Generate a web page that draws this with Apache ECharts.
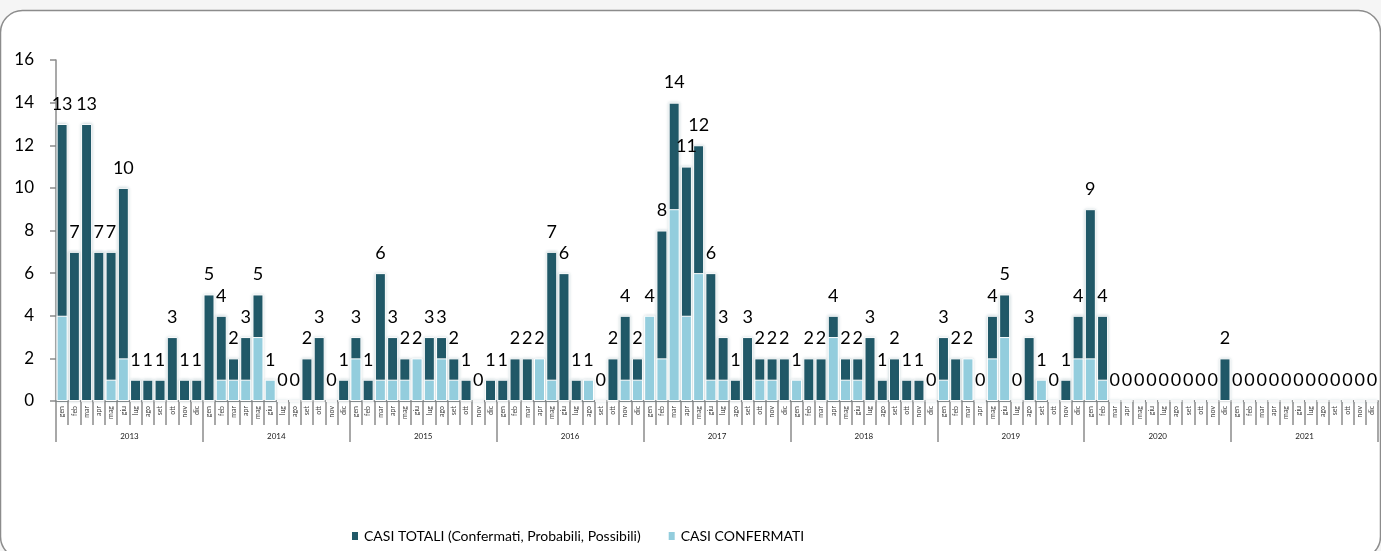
<!DOCTYPE html>
<html>
<head>
<meta charset="utf-8">
<script src="https://cdn.jsdelivr.net/npm/echarts@6/dist/echarts.min.js"></script>
<style>
html,body{margin:0;padding:0;background:#f5f5f5;}
#chart{width:1381px;height:551px;}
</style>
</head>
<body>
<div id="chart"></div>
<script>
const years = ['2013','2014','2015','2016','2017','2018','2019','2020','2021'];
const months = ['gen','feb','mar','apr','mag','giu','lug','ago','set','ott','nov','dic'];

const total2013 = [13,7,13,7,7,10,1,1,1,3,1,1];
const total2014 = [5,4,2,3,5,1,0,0,2,3,0,1];
const total2015 = [3,1,6,3,2,2,3,3,2,1,0,1];
const total2016 = [1,2,2,2,7,6,1,1,0,2,4,2];
const total2017 = [4,8,14,11,12,6,3,1,3,2,2,2];
const total2018 = [1,2,2,4,2,2,3,1,2,1,1,0];
const total2019 = [3,2,2,0,4,5,0,3,1,0,1,4];
const total2020 = [9,4,0,0,0,0,0,0,0,0,0,2];
const total2021 = [0,0,0,0,0,0,0,0,0,0,0,0];

const conf2013 = [4,0,0,0,1,2,0,0,0,0,0,0];
const conf2014 = [0,1,1,1,3,1,0,0,0,0,0,0];
const conf2015 = [2,0,1,1,1,2,1,2,1,0,0,0];
const conf2016 = [0,0,0,2,1,0,0,1,0,0,1,1];
const conf2017 = [4,2,9,4,6,1,1,0,0,1,1,0];
const conf2018 = [1,0,0,3,1,1,0,0,0,0,0,0];
const conf2019 = [1,0,2,0,2,3,0,0,1,0,0,2];
const conf2020 = [2,1,0,0,0,0,0,0,0,0,0,0];
const conf2021 = [0,0,0,0,0,0,0,0,0,0,0,0];

const seriesNames = ['CASI TOTALI (Confermati, Probabili, Possibili)','CASI CONFERMATI'];
const yTicks = {min:0, max:16, interval:2};

const totals = [].concat(total2013,total2014,total2015,total2016,total2017,total2018,total2019,total2020,total2021);
const confs = [].concat(conf2013,conf2014,conf2015,conf2016,conf2017,conf2018,conf2019,conf2020,conf2021);
const cats = [];
years.forEach(y => months.forEach(m => cats.push(m)));

const FONT = 'Lato, "Open Sans", sans-serif';
const chart = echarts.init(document.getElementById('chart'), null, {renderer:'canvas'});
chart.setOption({
  backgroundColor:'#f5f5f5',
  animation:false,
  textStyle:{fontFamily:FONT},
  graphic:[{
    type:'rect', z:-10, silent:true,
    shape:{x:0.5, y:10.5, width:1380, height:548, r:22},
    style:{fill:'#ffffff', stroke:'#8c8c8c', lineWidth:1.5}
  }],
  legend:{
    left:345, top:524, icon:'rect', itemWidth:8, itemHeight:10, itemGap:26,
    textStyle:{fontFamily:FONT, fontSize:14, color:'#000'},
    data:seriesNames
  },
  grid:{left:56, right:3, top:60, bottom:150, containLabel:false},
  xAxis:[{
    type:'category', data:cats, position:'bottom',
    axisLine:{show:true, lineStyle:{color:'#8c8c8c', width:1.5}},
    axisTick:{show:true, length:24, interval:0, lineStyle:{color:'#8c8c8c', width:1.5}},
    axisLabel:{interval:0, rotate:90, fontSize:7, color:'#404040', margin:5, fontFamily:FONT}
  },{
    type:'category', data:years, position:'bottom',
    axisLine:{show:true, lineStyle:{color:'#8c8c8c', width:1.5}},
    axisTick:{show:true, length:41, interval:0, lineStyle:{color:'#8c8c8c', width:1.5}},
    axisLabel:{interval:0, fontSize:8, color:'#202020', margin:31, fontFamily:FONT}
  }],
  yAxis:{
    type:'value', min:yTicks.min, max:yTicks.max, interval:yTicks.interval,
    axisLine:{show:true, lineStyle:{color:'#8c8c8c', width:1.5}},
    axisTick:{show:true, length:6, lineStyle:{color:'#8c8c8c', width:1.5}},
    splitLine:{show:false},
    axisLabel:{fontSize:17, color:'#000', margin:22, fontFamily:FONT}
  },
  series:[{
    name:seriesNames[0], type:'bar', xAxisIndex:0, data:totals,
    barWidth:'90%',
    itemStyle:{color:'#215968', borderColor:'#ffffff', borderWidth:1, shadowBlur:3, shadowColor:'rgba(33,89,104,0.25)'},
    label:{show:true, position:'top', distance:11, fontSize:18, color:'#000', fontFamily:FONT}
  },{
    name:seriesNames[1], type:'bar', xAxisIndex:0, data:confs,
    barWidth:'90%', barGap:'-100%',
    itemStyle:{color:'#93cddd', borderColor:'#ffffff', borderWidth:1}
  }]
});
</script>
</body>
</html>
